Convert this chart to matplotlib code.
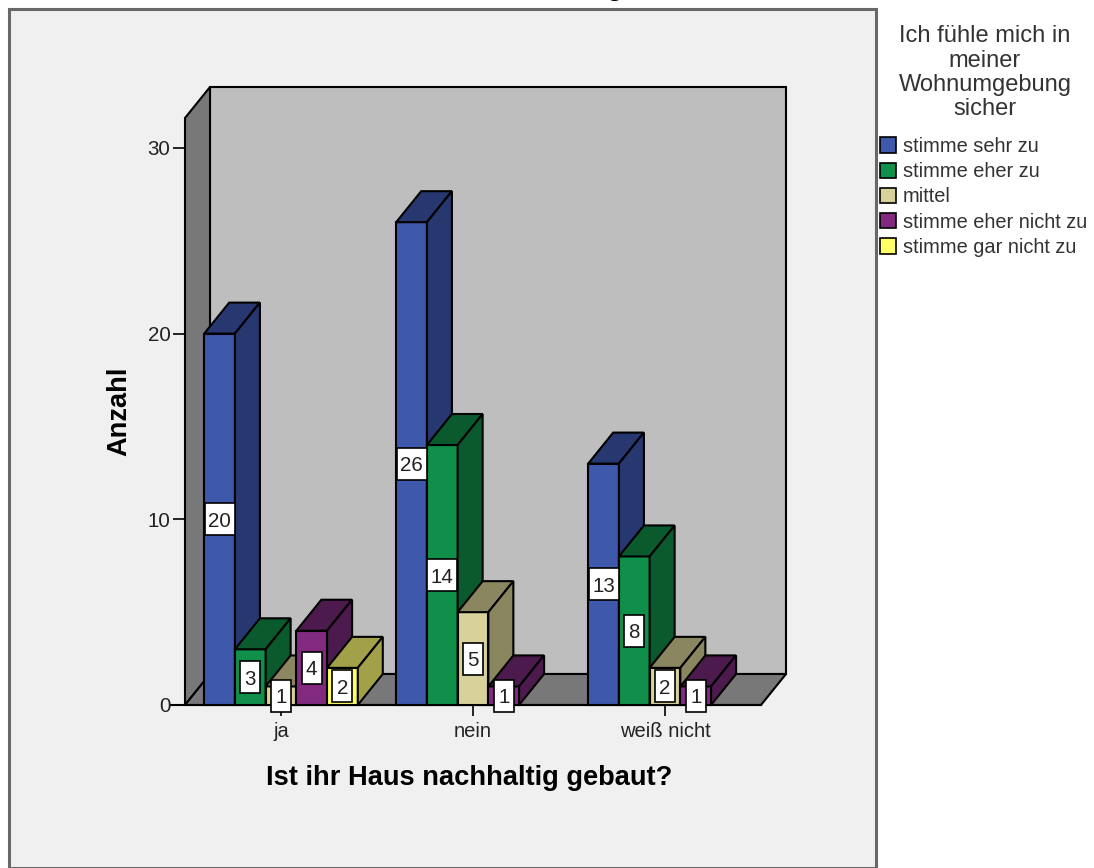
import matplotlib
matplotlib.use("Agg")
import matplotlib.pyplot as plt
from matplotlib.patches import Patch, Polygon, Rectangle

plt.rcParams["font.family"] = ["Liberation Sans", "DejaVu Sans"]

# --- data ---
categories = ["ja", "nein", "weiß nicht"]
series_names = ["stimme sehr zu", "stimme eher zu", "mittel",
                "stimme eher nicht zu", "stimme gar nicht zu"]
sehr_zu = [20, 26, 13]
eher_zu = [3, 14, 8]
mittel = [1, 5, 2]
eher_nicht_zu = [4, 1, 1]
gar_nicht_zu = [2, 0, 0]
y_ticks = [0, 10, 20, 30]

# front, top, side
colors = [
    ("#3E58AC", "#27376F", "#27376F"),
    ("#0F8F4A", "#0A5A2E", "#0A5A2E"),
    ("#D8D29A", "#8A8760", "#8A8760"),
    ("#822A7F", "#4D1A4D", "#4D1A4D"),
    ("#FFFF66", "#A3A04A", "#A3A04A"),
]

# --- layout (pixels) ---
W, H = 1094, 868
AX_LEFT, AX_RIGHT = 185, 761
AX_TOP, AX_BOTTOM = 118, 705
PX_PER_CAT = (AX_RIGHT - AX_LEFT) / 3
PX_PER_COUNT = 18.57
BAR_W = 0.16
DEPTH_X = 25 / PX_PER_CAT
DEPTH_Y = 31 / PX_PER_COUNT
EDGE = 1.5

fig = plt.figure(figsize=(W / 100, H / 100), dpi=100, facecolor="white")

# chart background panel, behind the axes
fig.add_artist(Rectangle((9 / W, 1 - 867.5 / H), 867 / W, 858.5 / H,
                         transform=fig.transFigure, facecolor="#F0F0F0",
                         edgecolor="#686868", linewidth=2.2, zorder=-1))

ax = fig.add_axes([AX_LEFT / W, 1 - AX_BOTTOM / H,
                   (AX_RIGHT - AX_LEFT) / W, (AX_BOTTOM - AX_TOP) / H])
ax.patch.set_alpha(0)
ax.set_xlim(-0.5, 2.5)
ax.set_ylim(0, (AX_BOTTOM - AX_TOP) / PX_PER_COUNT)
x0, x1 = ax.get_xlim()
y0, y1 = ax.get_ylim()


def poly(points, color, z):
    ax.add_patch(Polygon(points, closed=True, facecolor=color, edgecolor="black",
                         linewidth=EDGE, joinstyle="miter", clip_on=False, zorder=z))


# walls and floor of the 3D box
poly([(x0 + DEPTH_X, y0 + DEPTH_Y), (x1 + DEPTH_X, y0 + DEPTH_Y),
      (x1 + DEPTH_X, y1 + DEPTH_Y), (x0 + DEPTH_X, y1 + DEPTH_Y)], "#BEBEBE", 1)
poly([(x0, y0), (x0 + DEPTH_X, y0 + DEPTH_Y),
      (x0 + DEPTH_X, y1 + DEPTH_Y), (x0, y1)], "#787878", 1)
poly([(x0, y0), (x1, y0), (x1 + DEPTH_X, y0 + DEPTH_Y),
      (x0 + DEPTH_X, y0 + DEPTH_Y)], "#787878", 1)

# bars, left to right so each one overlaps its neighbour's side face
all_series = [sehr_zu, eher_zu, mittel, eher_nicht_zu, gar_nicht_zu]
z = 2
for c in range(len(categories)):
    for s, values in enumerate(all_series):
        v = values[c]
        if v == 0:
            continue
        left = c + (s - 2.5) * BAR_W
        right = left + BAR_W
        front, top, side = colors[s]
        poly([(left, 0), (right, 0), (right, v), (left, v)], front, z)
        poly([(left, v), (right, v), (right + DEPTH_X, v + DEPTH_Y),
              (left + DEPTH_X, v + DEPTH_Y)], top, z)
        poly([(right, 0), (right + DEPTH_X, DEPTH_Y),
              (right + DEPTH_X, v + DEPTH_Y), (right, v)], side, z)
        z += 1

# value boxes sit on top of all bars
for c in range(len(categories)):
    for s, values in enumerate(all_series):
        v = values[c]
        if v == 0:
            continue
        xc = c + (s - 2) * BAR_W
        half_w = (15 if v >= 10 else 10) / PX_PER_CAT
        half_h = 16 / PX_PER_COUNT
        ax.add_patch(Rectangle((xc - half_w, v / 2 - half_h), 2 * half_w, 2 * half_h,
                               facecolor="white", edgecolor="black", linewidth=1.2,
                               clip_on=False, zorder=50))
        ax.text(xc, v / 2, str(v), ha="center", va="center_baseline", fontsize=14.8,
                color="#222222", zorder=51)

# axes
for name in ["top", "right", "left", "bottom"]:
    ax.spines[name].set_visible(False)
ax.set_xticks(range(len(categories)))
ax.set_xticklabels(categories)
ax.set_yticks(y_ticks)
ax.tick_params(axis="y", length=8.5, width=1.2, labelsize=14.8, pad=2,
               labelcolor="#222222")
ax.tick_params(axis="x", length=8, width=1.2, labelsize=14.5, pad=4.5,
               labelcolor="#222222")
ax.plot([x0 - 14 / PX_PER_CAT, x1], [0, 0], color="black", lw=EDGE, clip_on=False, zorder=1.5)
ax.set_xlabel("Ist ihr Haus nachhaltig gebaut?", fontsize=19.6, fontweight="bold",
              labelpad=17, color="black")
ax.xaxis.label.set_x(0.494)
ax.set_ylabel("Anzahl", fontsize=19.6, fontweight="bold", labelpad=11, color="black")
fig.text(588 / W, 1 + 5 / H, "Balkendiagramm", ha="center", va="baseline",
         fontsize=19.6, fontweight="bold", color="black")

# legend
fig.text(985 / W, 1 - 25.5 / H, "Ich fühle mich in\nmeiner\nWohnumgebung\nsicher", ha="center",
         va="top", fontsize=17, linespacing=1.12, color="#333333")
handles = [Patch(facecolor=colors[i][0], edgecolor="black", linewidth=1.2, label=name)
           for i, name in enumerate(series_names)]
fig.legend(handles=handles, loc="upper left", bbox_to_anchor=(880 / W, 1 - 137 / H),
           frameon=False, fontsize=14.4, labelcolor="#333333", borderpad=0, borderaxespad=0,
           handlelength=0.8, handleheight=0.8, handletextpad=0.35, labelspacing=0.31)

fig.savefig("out.png", dpi=100)
